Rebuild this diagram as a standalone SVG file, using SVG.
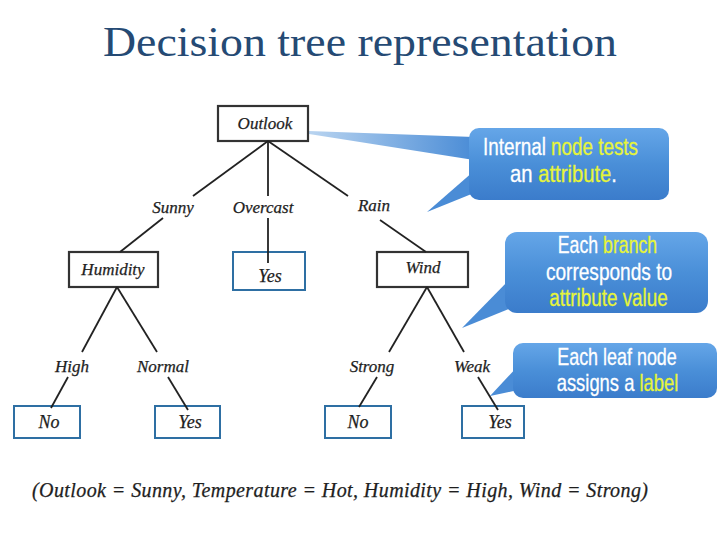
<svg xmlns="http://www.w3.org/2000/svg" width="720" height="540" viewBox="0 0 720 540">
<defs>
<linearGradient id="cg" x1="0" y1="0" x2="0" y2="1">
<stop offset="0" stop-color="#65a6e8"/>
<stop offset="0.5" stop-color="#4a8fd8"/>
<stop offset="1" stop-color="#3b7ccb"/>
</linearGradient>
<linearGradient id="wg" x1="0" y1="0" x2="1" y2="0">
<stop offset="0" stop-color="#b9d4f0"/>
<stop offset="1" stop-color="#4a8cd6"/>
</linearGradient>
<style>
.box{fill:#fff;stroke:#333;stroke-width:2.2}
.leaf{fill:#fff;stroke:#2e6fa3;stroke-width:2}
.t{font-family:"Liberation Serif","Times New Roman",serif;font-style:italic;font-size:17px;fill:#1e1e1e;text-anchor:middle;stroke:#1e1e1e;stroke-width:0.25}
.lt{font-family:"Liberation Serif","Times New Roman",serif;font-style:italic;font-size:18px;fill:#1e1e1e;text-anchor:middle;stroke:#1e1e1e;stroke-width:0.25}
.e{stroke:#222;stroke-width:1.8;fill:none}
.cb{fill:url(#cg)}
.cp{fill:#4a8cd6}
.ct{font-family:"Liberation Sans",Arial,sans-serif;font-size:23px;fill:#ffffff;stroke:#ffffff;stroke-width:0.3;text-anchor:middle}
.y{fill:#e6f43a;stroke:#e6f43a}
</style>
</defs>
<rect width="720" height="540" fill="#fff"/>
<text x="103" y="56" font-family="Liberation Serif,'Times New Roman',serif" font-size="43" fill="#254a74" textLength="514" lengthAdjust="spacingAndGlyphs">Decision tree representation</text>

<g id="callout-internal">
<polygon points="309,131 474,137 474,160 309,134" fill="url(#wg)"/>
<polygon class="cp" points="474,171 427,212 474,193"/>
<rect class="cb" x="469" y="128" width="200" height="72" rx="10"/>
<text class="ct" transform="translate(560.5,155) scale(0.82,1)">Internal <tspan class="y">node tests</tspan></text>
<text class="ct" transform="translate(563.5,182) scale(0.88,1)">an <tspan class="y">attribute</tspan>.</text>
</g>
<g id="callout-branch">
<polygon class="cp" points="510,279 462,328 516,306"/>
<rect class="cb" x="505" y="232" width="203" height="81" rx="12"/>
<text class="ct" transform="translate(607.5,253) scale(0.77,1)">Each <tspan class="y">branch</tspan></text>
<text class="ct" transform="translate(609,280) scale(0.83,1)">corresponds to</text>
<text class="ct y" transform="translate(608.5,306) scale(0.82,1)">attribute value</text>
</g>
<g id="callout-leaf">
<polygon class="cp" points="518,366 490,396 518,390"/>
<rect class="cb" x="513" y="343" width="204" height="55" rx="10"/>
<text class="ct" transform="translate(617,365) scale(0.78,1)">Each leaf node</text>
<text class="ct" transform="translate(617.5,391) scale(0.8,1)">assigns a <tspan class="y">label</tspan></text>
</g>

<g id="n-outlook"><rect class="box" x="218" y="106" width="90" height="35"/><text class="t" x="265" y="129">Outlook</text></g>
<g id="n-humidity"><rect class="box" x="69" y="252" width="89" height="35"/><text class="t" x="113" y="275">Humidity</text></g>
<g id="n-wind"><rect class="box" x="377" y="252" width="91" height="35"/><text class="t" x="423" y="273">Wind</text></g>
<g id="n-yes-overcast"><rect class="leaf" x="233" y="252" width="72" height="38"/><text class="lt" x="270" y="282">Yes</text></g>
<g id="n-no-high"><rect class="leaf" x="14" y="406" width="66" height="32"/><text class="lt" x="49" y="428">No</text></g>
<g id="n-yes-normal"><rect class="leaf" x="155" y="406" width="65" height="32"/><text class="lt" x="190" y="428">Yes</text></g>
<g id="n-no-strong"><rect class="leaf" x="325" y="406" width="66" height="32"/><text class="lt" x="358" y="428">No</text></g>
<g id="n-yes-weak"><rect class="leaf" x="462" y="406" width="62" height="32"/><text class="lt" x="500" y="428">Yes</text></g>

<g id="connectors">
<line class="e" x1="268" y1="141" x2="193" y2="196"/>
<line class="e" x1="268" y1="141" x2="268" y2="196"/>
<line class="e" x1="268" y1="141" x2="348" y2="196"/>
<line class="e" x1="163" y1="218" x2="120" y2="252"/>
<line class="e" x1="268" y1="218" x2="268" y2="263"/>
<line class="e" x1="380" y1="220" x2="426" y2="252"/>
<line class="e" x1="117" y1="287" x2="82" y2="352"/>
<line class="e" x1="117" y1="287" x2="157" y2="352"/>
<line class="e" x1="68" y1="377" x2="51" y2="408"/>
<line class="e" x1="168" y1="377" x2="188" y2="410"/>
<line class="e" x1="427" y1="287" x2="389" y2="352"/>
<line class="e" x1="427" y1="287" x2="464" y2="352"/>
<line class="e" x1="377" y1="377" x2="359" y2="407"/>
<line class="e" x1="478" y1="377" x2="498" y2="410"/>
<text class="t" x="173" y="213">Sunny</text>
<text class="t" x="263" y="213">Overcast</text>
<text class="t" x="374" y="211">Rain</text>
<text class="t" x="72" y="372">High</text>
<text class="t" x="163" y="372">Normal</text>
<text class="t" x="372" y="372">Strong</text>
<text class="t" x="472" y="372">Weak</text>
</g>

<text x="32" y="497" font-family="Liberation Serif,'Times New Roman',serif" font-style="italic" font-size="20" fill="#1e1e1e" stroke="#1e1e1e" stroke-width="0.25" textLength="616" lengthAdjust="spacing">(Outlook = Sunny,  Temperature = Hot,  Humidity = High,  Wind = Strong)</text>
</svg>
